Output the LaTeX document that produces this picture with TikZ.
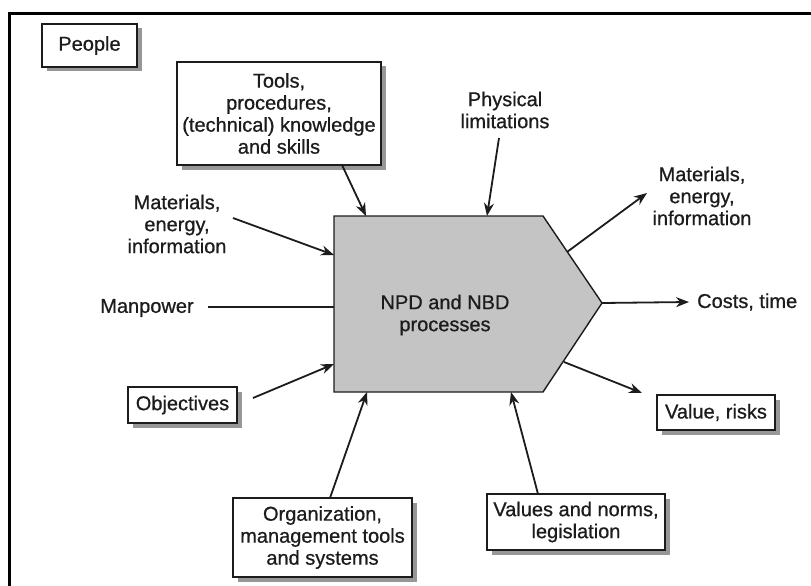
\documentclass[tikz,border=0pt]{standalone}
\usepackage{fontspec}
\setmainfont{Liberation Sans}
\newfontfamily\diafont{Liberation Sans}[FakeBold=0.7]
\usetikzlibrary{arrows.meta,shadows}
\definecolor{procgray}{HTML}{C4C4C4}
\definecolor{inkgray}{HTML}{1C1C1C}
\begin{document}
\begin{tikzpicture}[x=1pt,y=-1pt,
  every node/.style={font=\diafont\fontsize{20}{22}\selectfont, text=inkgray, inner sep=0pt},
  labelbox/.style={draw=inkgray, line width=1.4pt, fill=white, align=center,
    drop shadow={shadow xshift=4.5pt, shadow yshift=-4.5pt, fill=black!45, opacity=0.9}},
  plainlabel/.style={align=center},
  conn/.style={line width=1.8pt, draw=inkgray, -{Stealth[length=13pt,width=10pt]}},
  feed/.style={line width=1.8pt, draw=inkgray},
]
\useasboundingbox (0,0) rectangle (811,586);
\fill[white] (0,0) rectangle (811,586);

% outer frame (open to the right and bottom)
\draw[line width=3pt, black] (9,586) -- (9,14) -- (811,14);

% central process shape
\draw[fill=procgray, draw=inkgray, line width=1.4pt]
  (334,216) -- (543,216) -- (602,303) -- (543,392) -- (334,392) -- cycle;
\node[plainlabel] (proc) at (445,315) {NPD and NBD\\processes};

% boxed labels
\node[labelbox, minimum width=95pt, minimum height=43pt] (people) at (89.5,45.5) {People};
\node[labelbox, minimum width=204pt, minimum height=103pt] (tools) at (279,113.5)
  {Tools,\\procedures,\\(technical) knowledge\\and skills};
\node[labelbox, minimum width=109pt, minimum height=36pt] (obj) at (182.5,405) {Objectives};
\node[labelbox, minimum width=118pt, minimum height=35pt] (valrisk) at (716,412.5) {Value, risks};
\node[labelbox, minimum width=178pt, minimum height=56pt] (norms) at (576,522)
  {Values and norms,\\legislation};
\node[labelbox, minimum width=179pt, minimum height=79pt] (org) at (322.5,537.5)
  {Organization,\\management tools\\and systems};

% free labels
\node[plainlabel] (matin) at (177,224) {Materials,\\energy,\\information};
\node[plainlabel] (man) at (147,308) {Manpower};
\node[plainlabel] (phys) at (505,110) {Physical\\limitations};
\node[plainlabel] (matout) at (702,196) {Materials,\\energy,\\information};
\node[anchor=west] (cost) at (697,302) {Costs, time};

% connector end points on the process outline
\coordinate (inTools) at (366,216);
\coordinate (inPhys) at (487,216);
\coordinate (inMat) at (334,255);
\coordinate (inMan) at (334,307);
\coordinate (inObj) at (334,364);
\coordinate (inOrg) at (367,392);
\coordinate (inNorms) at (511,392);
\coordinate (outMat) at (567,252);
\coordinate (outCost) at (602,303);
\coordinate (outVal) at (564,362);

% connector end points next to the labels
\coordinate (toolsFoot) at (342,165);
\coordinate (physFoot) at (499,138);
\coordinate (matinTail) at (233,218);
\coordinate (manTail) at (208,307);
\coordinate (objTail) at (253,398);
\coordinate (orgTop) at (330,498);
\coordinate (normsTop) at (538,494);
\coordinate (matoutHead) at (647,193);
\coordinate (costHead) at (689,302);
\coordinate (valHead) at (642,393);

% inputs
\draw[conn] (toolsFoot) -- (inTools);
\draw[conn] (physFoot) -- (inPhys);
\draw[conn] (matinTail) -- (inMat);
\draw[feed] (manTail) -- (inMan);
\draw[conn] (objTail) -- (inObj);
\draw[conn] (orgTop) -- (inOrg);
\draw[conn] (normsTop) -- (inNorms);

% outputs
\draw[conn] (outMat) -- (matoutHead);
\draw[conn] (outCost) -- (costHead);
\draw[conn] (outVal) -- (valHead);
\end{tikzpicture}
\end{document}
